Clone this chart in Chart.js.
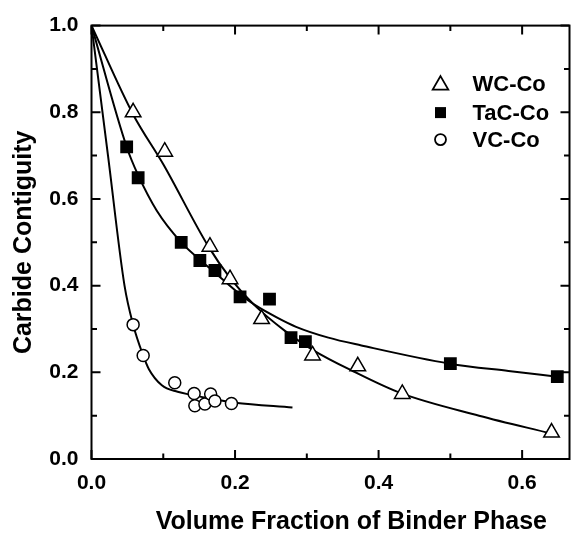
<!DOCTYPE html>
<html>
<head>
<meta charset="utf-8">
<script src="https://cdn.jsdelivr.net/npm/chart.js@4.4.0/dist/chart.umd.min.js"></script>
<style>
    html, body { margin: 0; padding: 0; background: #fff; }
    #chart { display: block; }
</style>
</head>
<body>
<canvas id="chart" width="580" height="538"></canvas>
<script>
    // Series names
    const seriesNames = ['WC-Co', 'TaC-Co', 'VC-Co'];

    const wcX  = [0.058, 0.102, 0.165, 0.193, 0.237, 0.308, 0.371, 0.433, 0.641];
    const wcY  = [0.80, 0.709, 0.49, 0.415, 0.323, 0.239, 0.214, 0.15, 0.061];
    const tacX = [0.049, 0.065, 0.125, 0.151, 0.172, 0.207, 0.248, 0.278, 0.298, 0.50, 0.649];
    const tacY = [0.72, 0.649, 0.50, 0.458, 0.435, 0.374, 0.369, 0.28, 0.271, 0.22, 0.19];
    const vcX  = [0.058, 0.072, 0.116, 0.143, 0.144, 0.158, 0.166, 0.172, 0.195];
    const vcY  = [0.31, 0.239, 0.176, 0.151, 0.123, 0.127, 0.15, 0.134, 0.128];

    // Fitted curves
    const wcFitX  = [0, 0.058, 0.1, 0.163, 0.193, 0.227, 0.27, 0.308, 0.364, 0.431, 0.54, 0.64];
    const wcFitY  = [1, 0.795, 0.68, 0.49, 0.418, 0.355, 0.295, 0.252, 0.203, 0.152, 0.10, 0.059];
    const tacFitX = [0, 0.049, 0.065, 0.091, 0.125, 0.151, 0.172, 0.207, 0.227, 0.26, 0.285, 0.33, 0.376, 0.499, 0.581, 0.649];
    const tacFitY = [1, 0.72, 0.655, 0.573, 0.50, 0.46, 0.43, 0.38, 0.356, 0.325, 0.305, 0.28, 0.262, 0.22, 0.203, 0.19];
    const vcFitX  = [0, 0.023, 0.046, 0.058, 0.072, 0.08, 0.098, 0.12, 0.139, 0.17, 0.2, 0.28];
    const vcFitY  = [1, 0.70, 0.40, 0.31, 0.239, 0.207, 0.17, 0.155, 0.148, 0.138, 0.13, 0.119];

    // Tick labels
    const xTicks = [0, 0.2, 0.4, 0.6];
    const yTicks = [0, 0.2, 0.4, 0.6, 0.8, 1.0];
    const xMinor = [0.1, 0.3, 0.5];
    const yMinor = [0.1, 0.3, 0.5, 0.7, 0.9];

    const FONT = "'Liberation Sans', Arial, Helvetica, sans-serif";
    const pts = (xs, ys) => xs.map((v, i) => ({ x: v, y: ys[i] }));

    const markers = [
        { pointStyle: 'triangle', radius: 9, backgroundColor: '#fff' },
        { pointStyle: 'rect', radius: 8, backgroundColor: '#000' },
        { pointStyle: 'circle', radius: 6, backgroundColor: '#fff' }
    ];

    const pointSet = (i, xs, ys) => ({
        label: seriesNames[i],
        data: pts(xs, ys),
        showLine: false,
        pointStyle: markers[i].pointStyle,
        pointRadius: markers[i].radius,
        pointBackgroundColor: markers[i].backgroundColor,
        pointBorderColor: '#000',
        pointBorderWidth: 1.5,
        order: 1
    });

    const lineSet = (xs, ys) => ({
        data: pts(xs, ys),
        showLine: true,
        borderColor: '#000',
        borderWidth: 2,
        pointRadius: 0,
        cubicInterpolationMode: 'monotone',
        fill: false,
        order: 2
    });

    // Frame, inward ticks on all sides, and the in-plot legend
    const frameAndLegend = {
        id: 'frameAndLegend',
        afterDraw(chart) {
            const { ctx, chartArea: a, scales: { x, y } } = chart;
            ctx.save();
            ctx.strokeStyle = '#000';
            ctx.lineWidth = 2;
            ctx.strokeRect(a.left, a.top, a.right - a.left, a.bottom - a.top);

            ctx.beginPath();
            const xt = (v, len) => {
                const px = x.getPixelForValue(v);
                ctx.moveTo(px, a.bottom); ctx.lineTo(px, a.bottom - len);
                ctx.moveTo(px, a.top); ctx.lineTo(px, a.top + len);
            };
            const yt = (v, len) => {
                const py = y.getPixelForValue(v);
                ctx.moveTo(a.left, py); ctx.lineTo(a.left + len, py);
                ctx.moveTo(a.right, py); ctx.lineTo(a.right - len, py);
            };
            xTicks.forEach(v => xt(v, 9));
            xMinor.forEach(v => xt(v, 5.5));
            yTicks.forEach(v => yt(v, 9));
            yMinor.forEach(v => yt(v, 5.5));
            ctx.stroke();

            // legend
            const symX = a.left + 349, txtX = a.left + 381;
            const rows = [a.top + 58, a.top + 87, a.top + 114];
            ctx.font = 'bold 22px ' + FONT;
            ctx.textBaseline = 'middle';
            ctx.fillStyle = '#000';
            ctx.lineWidth = 1.8;
            rows.forEach((ry, i) => {
                ctx.beginPath();
                if (i === 0) {
                    const r = 9;
                    ctx.moveTo(symX, ry - r + 1.5);
                    ctx.lineTo(symX + r * 0.866, ry + r * 0.5 + 1.5);
                    ctx.lineTo(symX - r * 0.866, ry + r * 0.5 + 1.5);
                    ctx.closePath();
                    ctx.fillStyle = '#fff'; ctx.fill(); ctx.stroke();
                } else if (i === 1) {
                    ctx.fillStyle = '#000';
                    ctx.fillRect(symX - 5.5, ry - 5.5, 11, 11);
                } else {
                    ctx.arc(symX, ry, 5.5, 0, Math.PI * 2);
                    ctx.fillStyle = '#fff'; ctx.fill(); ctx.stroke();
                }
                ctx.fillStyle = '#000';
                ctx.fillText(seriesNames[i], txtX, ry + 1);
            });
            ctx.restore();
        }
    };

    const config = {
        type: 'scatter',
        data: {
            datasets: [
                pointSet(0, wcX, wcY),
                pointSet(1, tacX, tacY),
                pointSet(2, vcX, vcY),
                lineSet(wcFitX, wcFitY),
                lineSet(tacFitX, tacFitY),
                lineSet(vcFitX, vcFitY)
            ]
        },
        options: {
            responsive: false,
            animation: false,
            devicePixelRatio: 1,
            layout: { padding: { top: 20, right: 1, left: 0, bottom: 0 } },
            plugins: {
                legend: { display: false },
                tooltip: { enabled: false }
            },
            scales: {
                x: {
                    type: 'linear',
                    min: 0,
                    max: 0.666,
                    afterBuildTicks: s => { s.ticks = xTicks.map(v => ({ value: v })); },
                    afterFit: s => { s.height = 79; },
                    grid: { display: false, drawTicks: false },
                    border: { display: false },
                    ticks: {
                        padding: 12,
                        color: '#000',
                        font: { family: FONT, size: 21, weight: 'bold' },
                        callback: v => v.toFixed(1)
                    },
                    title: {
                        display: true,
                        text: '      Volume Fraction of Binder Phase',
                        color: '#000',
                        padding: { top: 0, bottom: 1 },
                        font: { family: FONT, size: 25, weight: 'bold' }
                    }
                },
                y: {
                    min: 0,
                    max: 1,
                    afterBuildTicks: s => { s.ticks = yTicks.map(v => ({ value: v })); },
                    afterFit: s => { s.width = 91.5; },
                    grid: { display: false, drawTicks: false },
                    border: { display: false },
                    ticks: {
                        padding: 13,
                        color: '#000',
                        font: { family: FONT, size: 21, weight: 'bold' },
                        callback: v => v.toFixed(1)
                    },
                    title: {
                        display: true,
                        text: 'Carbide Contiguity',
                        color: '#000',
                        padding: { top: 9, bottom: 0 },
                        font: { family: FONT, size: 25, weight: 'bold' }
                    }
                }
            }
        },
        plugins: [frameAndLegend]
    };

    const chart = new Chart(document.getElementById('chart'), config);
</script>
</body>
</html>
